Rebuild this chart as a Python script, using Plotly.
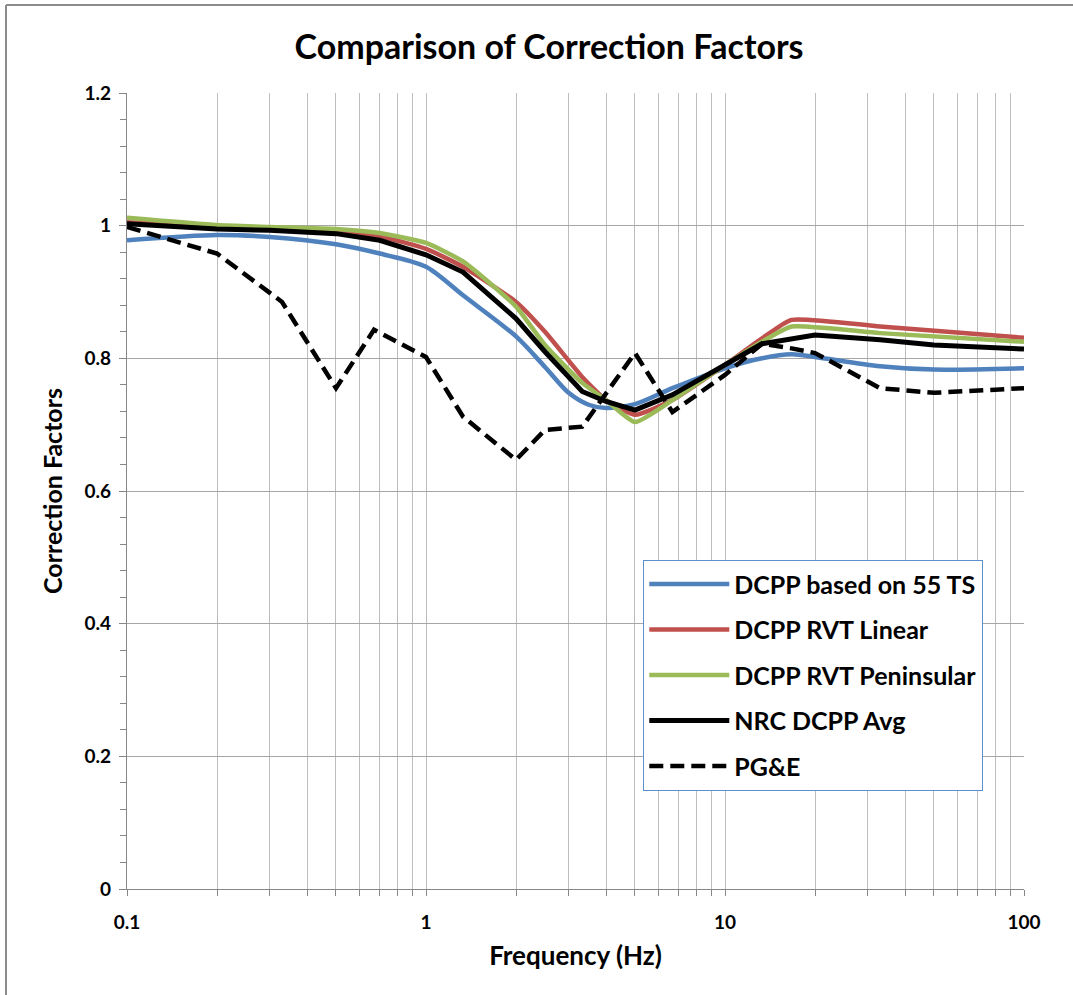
import plotly.graph_objects as go

# ---- Data ----
freq_blue = [0.1, 0.2, 0.3, 0.5, 0.7, 1.0, 1.33, 2.0, 2.5, 3.0, 3.5, 4.0, 5.0, 6.67, 10, 13.3, 16.7, 20, 33, 50, 100]
dcpp_55ts = [0.978, 0.986, 0.983, 0.972, 0.958, 0.938, 0.895, 0.833, 0.787, 0.748, 0.730, 0.725, 0.731, 0.755, 0.785, 0.800, 0.806, 0.802, 0.788, 0.783, 0.785]

freq_rvt = [0.1, 0.2, 0.3, 0.5, 0.7, 1.0, 1.33, 2.0, 2.5, 3.33, 4.0, 5.0, 6.67, 10, 13.3, 16.7, 33, 100]
rvt_linear = [1.005, 0.998, 0.996, 0.992, 0.984, 0.965, 0.938, 0.885, 0.840, 0.772, 0.737, 0.715, 0.737, 0.790, 0.830, 0.858, 0.848, 0.831]
rvt_peninsular = [1.012, 1.001, 0.998, 0.995, 0.989, 0.974, 0.946, 0.878, 0.820, 0.763, 0.737, 0.704, 0.737, 0.790, 0.825, 0.848, 0.838, 0.825]

freq_avg = [0.1, 0.2, 0.3, 0.5, 0.7, 1.0, 1.33, 2.0, 2.5, 3.33, 4.0, 5.0, 6.67, 10, 13.3, 20, 33, 50, 100]
nrc_avg = [1.003, 0.995, 0.993, 0.988, 0.978, 0.956, 0.930, 0.860, 0.810, 0.750, 0.735, 0.722, 0.745, 0.790, 0.822, 0.835, 0.828, 0.820, 0.814]

freq_pge = [0.1, 0.2, 0.33, 0.5, 0.67, 1.0, 1.33, 2.0, 2.5, 3.33, 5.0, 6.67, 10, 13.3, 16.7, 20, 33, 50, 100]
pge = [0.998, 0.958, 0.885, 0.755, 0.843, 0.802, 0.712, 0.647, 0.692, 0.697, 0.808, 0.719, 0.775, 0.822, 0.815, 0.808, 0.755, 0.748, 0.755]

x_ticks = [0.1, 1, 10, 100]
x_tick_labels = ["0.1", "1", "10", "100"]

FONT = "Lato"

fig = go.Figure()
fig.add_trace(go.Scatter(x=freq_blue, y=dcpp_55ts, mode="lines", name="DCPP based on 55 TS",
                         line=dict(color="#4F81BD", width=4.5, shape="spline", smoothing=0.8), legendgroup="a"))
fig.add_trace(go.Scatter(x=freq_rvt, y=rvt_linear, mode="lines", name="DCPP RVT Linear",
                         line=dict(color="#C0504D", width=4.5, shape="spline", smoothing=0.5), legendgroup="b"))
fig.add_trace(go.Scatter(x=freq_rvt, y=rvt_peninsular, mode="lines", name="DCPP RVT Peninsular",
                         line=dict(color="#9BBB59", width=4.5, shape="spline", smoothing=0.5), legendgroup="c"))
fig.add_trace(go.Scatter(x=freq_avg, y=nrc_avg, mode="lines", name="NRC DCPP Avg",
                         line=dict(color="#000000", width=5), legendgroup="d"))
fig.add_trace(go.Scatter(x=freq_pge, y=pge, mode="lines", name="PG&E",
                         line=dict(color="#000000", width=4.5, dash="14px,7px"), legendgroup="e"))

W, H = 1073, 995
L, R, T, B = 127, 1024, 93, 889
pw, ph = R - L, B - T

def px(x):
    return (x - L) / pw

def py(y):
    return (B - y) / ph

fig.update_layout(
    width=W, height=H,
    margin=dict(l=L, r=W - R, t=T, b=H - B),
    paper_bgcolor="white", plot_bgcolor="white",
    font=dict(family=FONT, color="#000000", size=19),
    title=dict(text="<b>Comparison of Correction Factors</b>", x=549 / W, xanchor="center",
               y=1 - 47 / H, yanchor="middle", font=dict(size=34, family=FONT)),
    showlegend=True,
    legend=dict(x=px(643), y=py(560), xanchor="left", yanchor="top",
                bordercolor="#5B8FD0", borderwidth=1.3, bgcolor="white",
                font=dict(size=25, family=FONT, weight="bold"), tracegroupgap=10,
                itemwidth=80),
    xaxis=dict(type="log", range=[-1, 2], tickvals=x_ticks, ticktext=[f"<b>{t}</b>" for t in x_tick_labels],
               showgrid=True, gridcolor="#BEBEBE", gridwidth=1,
               showline=True, linecolor="#878787", linewidth=1.3,
               ticks="outside", ticklen=6, tickcolor="#878787", ticklabelstandoff=10,
               minor=dict(dtick="D1", showgrid=True, gridcolor="#BEBEBE", ticks="outside", ticklen=6, tickcolor="#878787"),
               tickfont=dict(size=19, family=FONT),
               title=dict(text="<b>Frequency (Hz)</b>", font=dict(size=26, family=FONT), standoff=14),
               zeroline=False),
    yaxis=dict(range=[0, 1.2], dtick=0.2, tickformat="~g",
               showgrid=True, gridcolor="#A6A6A6", gridwidth=1,
               showline=True, linecolor="#878787", linewidth=1.3,
               ticks="outside", ticklen=7, tickcolor="#878787", ticklabelstandoff=4,
               minor=dict(dtick=0.04, ticks="outside", ticklen=6, tickcolor="#878787", showgrid=False),
               tickfont=dict(size=19, family=FONT, weight="bold"),
               title=dict(text="<b>Correction Factors</b>", font=dict(size=25, family=FONT), standoff=14),
               zeroline=False),
    shapes=[
        dict(type="line", xref="paper", yref="paper", x0=px(6), x1=px(W), y0=py(5), y1=py(5),
             line=dict(color="#8C8C8C", width=2)),
        dict(type="line", xref="paper", yref="paper", x0=px(6), x1=px(6), y0=py(5), y1=py(H),
             line=dict(color="#8C8C8C", width=2)),
    ],
)

fig.write_html("out.html", config={"displayModeBar": False},
               post_script="document.body.style.margin='0';document.body.style.overflow='hidden';")
